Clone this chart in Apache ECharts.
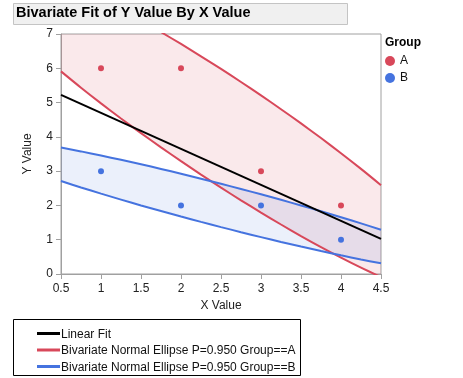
<!DOCTYPE html>
<html>
<head>
<meta charset="utf-8">
<script src="https://cdn.jsdelivr.net/npm/echarts@6/dist/echarts.min.js"></script>
<style>
html,body{margin:0;padding:0;background:#fff;}
#chart{width:463px;height:378px;}
</style>
</head>
<body>
<div id="chart"></div>
<script>
// ---- data ----
var xTicks = [0.5, 1, 1.5, 2, 2.5, 3, 3.5, 4, 4.5];
var groupA_x = [1, 2, 3, 4];
var groupA_y = [6, 6, 3, 2];
var groupB_x = [1, 2, 3, 4];
var groupB_y = [3, 2, 2, 1];
var fitX = [0.5, 4.5];
var fitY = [5.225, 1.025];
var ellipseX = [0.5, 0.75, 1, 1.25, 1.5, 1.75, 2, 2.25, 2.5, 2.75, 3, 3.25, 3.5, 3.75, 4, 4.25, 4.5];
var ellipseA_upper = [8.590, 8.316, 8.023, 7.715, 7.392, 7.056, 6.709, 6.350, 5.981, 5.600, 5.209, 4.806, 4.392, 3.965, 3.523, 3.066, 2.590];
var ellipseA_lower = [5.910, 5.434, 4.977, 4.535, 4.108, 3.694, 3.291, 2.900, 2.519, 2.150, 1.791, 1.444, 1.108, 0.785, 0.477, 0.184, -0.090];
var ellipseB_upper = [3.689, 3.576, 3.456, 3.330, 3.200, 3.064, 2.924, 2.780, 2.632, 2.480, 2.324, 2.164, 2.000, 1.830, 1.656, 1.476, 1.289];
var ellipseB_lower = [2.711, 2.524, 2.344, 2.170, 2.000, 1.836, 1.676, 1.520, 1.368, 1.220, 1.076, 0.936, 0.800, 0.670, 0.544, 0.424, 0.311];

var RED = '#d8485a', BLUE = '#4573df';
var FONT = 'Liberation Sans';
var nameFit = 'Linear Fit';
var nameA = 'Bivariate Normal Ellipse P=0.950 Group==A';
var nameB = 'Bivariate Normal Ellipse P=0.950 Group==B';
var lineLegend = [[nameFit, '#000'], [nameA, RED], [nameB, BLUE]];

function pairs(xs, ys) { return xs.map(function (x, i) { return [x, ys[i]]; }); }

function bandSeries(upper, lower, fill) {
  return {
    type: 'custom',
    clip: true,
    silent: true,
    z: 1,
    data: [0],
    renderItem: function (params, api) {
      var pts = [];
      for (var i = 0; i < ellipseX.length; i++) pts.push(api.coord([ellipseX[i], upper[i]]));
      for (var j = ellipseX.length - 1; j >= 0; j--) pts.push(api.coord([ellipseX[j], lower[j]]));
      return { type: 'polygon', shape: { points: pts }, style: { fill: fill, stroke: null } };
    }
  };
}
function curve(name, ys, color) {
  return {
    name: name, type: 'line', data: pairs(ellipseX, ys), smooth: 0.3,
    showSymbol: false, symbol: 'none', clip: true, z: 3, silent: true,
    lineStyle: { color: color, width: 2 }, itemStyle: { color: color }
  };
}

var graphics = [
  { type: 'rect', left: 13, top: 3, shape: { width: 334, height: 21 }, style: { fill: '#f0f0f0', stroke: '#c4c4c4', lineWidth: 1 } },
  { type: 'text', left: 16, top: 5, style: { text: 'Bivariate Fit of Y Value By X Value', font: 'bold 14.5px ' + FONT, fill: '#000' } },
  { type: 'text', left: 385, top: 37, style: { text: 'Group', font: 'bold 12px ' + FONT, fill: '#000' } },
  { type: 'rect', shape: { x: 13.5, y: 319.5, width: 287, height: 56 }, style: { fill: '#fff', stroke: '#000', lineWidth: 1 } }
];
lineLegend.forEach(function (it, i) {
  var cy = 333.5 + i * 16.5;
  graphics.push({ type: 'line', shape: { x1: 37, y1: cy, x2: 60, y2: cy }, style: { stroke: it[1], lineWidth: 3 } });
  graphics.push({ type: 'text', x: 61, y: cy + 1, style: { text: it[0], font: '12px ' + FONT, fill: '#111', textVerticalAlign: 'middle', verticalAlign: 'middle' } });
});

var chart = echarts.init(document.getElementById('chart'), null, { renderer: 'canvas' });
chart.setOption({
  animation: false,
  backgroundColor: '#fff',
  textStyle: { fontFamily: FONT },
  grid: { left: 61, right: 82, top: 34, bottom: 104, show: true, borderColor: '#a0a0a0', borderWidth: 1, backgroundColor: '#fff' },
  xAxis: {
    type: 'value', min: 0.5, max: 4.5, interval: 0.5,
    name: 'X Value', nameLocation: 'middle', nameGap: 26,
    nameTextStyle: { color: '#222', fontSize: 12, fontFamily: FONT },
    axisLine: { lineStyle: { color: '#a0a0a0' } },
    axisTick: { show: true, length: 5, lineStyle: { color: '#a0a0a0' } },
    axisLabel: { color: '#222', fontSize: 12, fontFamily: FONT, margin: 9, formatter: function (v) { return String(v); } },
    splitLine: { show: false }
  },
  yAxis: {
    type: 'value', min: 0, max: 7, interval: 1,
    name: 'Y Value', nameLocation: 'middle', nameGap: 27,
    nameTextStyle: { color: '#222', fontSize: 12, fontFamily: FONT },
    axisLine: { show: true, lineStyle: { color: '#a0a0a0' } },
    axisTick: { show: true, length: 5, lineStyle: { color: '#a0a0a0' } },
    axisLabel: { color: '#222', fontSize: 12, fontFamily: FONT, margin: 8 },
    splitLine: { show: false }
  },
  legend: [{
    data: [{ name: 'A', icon: 'circle' }, { name: 'B', icon: 'circle' }],
    orient: 'vertical', left: 385, top: 55, padding: 0, itemWidth: 10, itemHeight: 10, itemGap: 5,
    textStyle: { fontSize: 12, color: '#111', fontFamily: FONT }, selectedMode: false
  }],
  graphic: graphics,
  series: [
    bandSeries(ellipseA_upper, ellipseA_lower, 'rgba(216,72,90,0.12)'),
    bandSeries(ellipseB_upper, ellipseB_lower, 'rgba(69,115,223,0.11)'),
    curve(nameA, ellipseA_upper, RED),
    curve(nameA, ellipseA_lower, RED),
    curve(nameB, ellipseB_upper, BLUE),
    curve(nameB, ellipseB_lower, BLUE),
    { name: nameFit, type: 'line', data: pairs(fitX, fitY), showSymbol: false, symbol: 'none', z: 4, silent: true,
      lineStyle: { color: '#000', width: 2 }, itemStyle: { color: '#000' } },
    { name: 'A', type: 'scatter', data: pairs(groupA_x, groupA_y), symbolSize: 6, z: 5, itemStyle: { color: RED, opacity: 1 } },
    { name: 'B', type: 'scatter', data: pairs(groupB_x, groupB_y), symbolSize: 6, z: 5, itemStyle: { color: BLUE, opacity: 1 } }
  ]
});
</script>
</body>
</html>
